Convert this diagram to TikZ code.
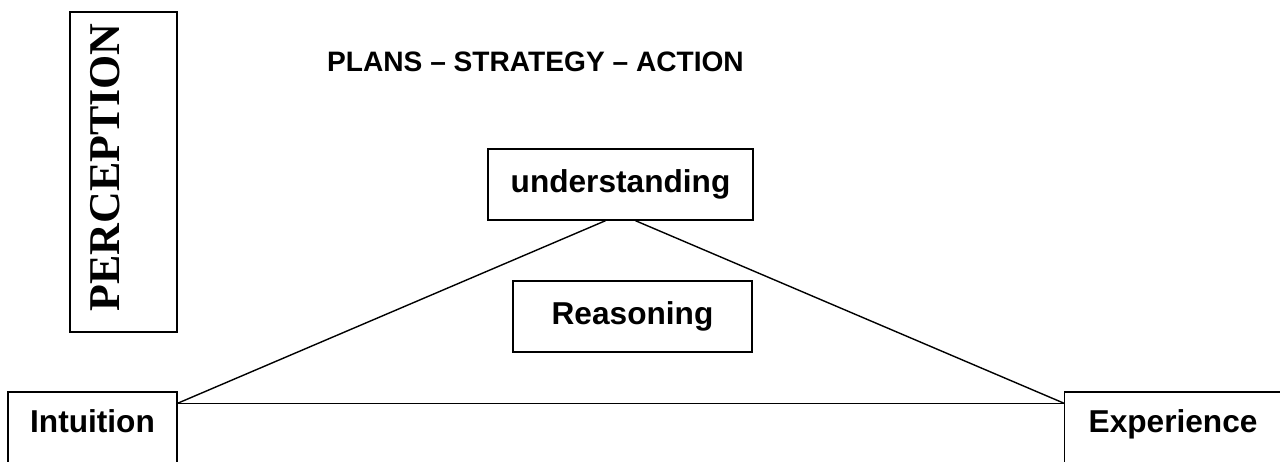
\documentclass[tikz,border=0pt]{standalone}
\usepackage{fontspec}
\setmainfont{Liberation Sans}
\newfontfamily\percfont{Liberation Serif}
\usepackage{tikz}

\begin{document}
\begin{tikzpicture}[
    box/.style={draw, line width=0.8pt, font=\fontsize{18}{22}\selectfont\bfseries},
    sidebox/.style={box, inner sep=0pt, text height=0.81cm, text depth=1.2cm}
]
\clip (0,0) rectangle (25.6,9.24);

\node[font=\fontsize{16}{20}\selectfont\bfseries] (title) at (10.71,8.00) {PLANS \textendash{} STRATEGY \textendash{} ACTION};

\node[draw, line width=0.8pt, minimum width=2.14cm, minimum height=6.4cm] (percbox) at (2.47,5.80) {};
\node[rotate=90, font=\fontsize{25}{30}\percfont\bfseries] (perc) at (2.10,5.89) {PERCEPTION};

\node[box, minimum width=5.30cm, minimum height=1.42cm] (und) at (12.41,5.55) {understanding};
\node[box, minimum width=4.78cm, minimum height=1.42cm] (reas) at (12.65,2.91) {Reasoning};

\node[sidebox, minimum width=3.38cm, anchor=base] (intu) at (1.85,0.591) {Intuition};
\node[sidebox, inner xsep=0.48cm, text width=4cm, align=left, anchor=base west] (expe) at (21.28,0.591) {Experience};

\coordinate (left) at ([yshift=-0.24cm]intu.north east);
\coordinate (right) at ([yshift=-0.24cm]expe.north west);

\draw[line width=0.8pt] (left) -- ([xshift=-0.3cm]und.south);
\draw[line width=0.8pt] ([xshift=0.3cm]und.south) -- (right);
\draw[line width=0.8pt] (left) -- (right);

\end{tikzpicture}
\end{document}
